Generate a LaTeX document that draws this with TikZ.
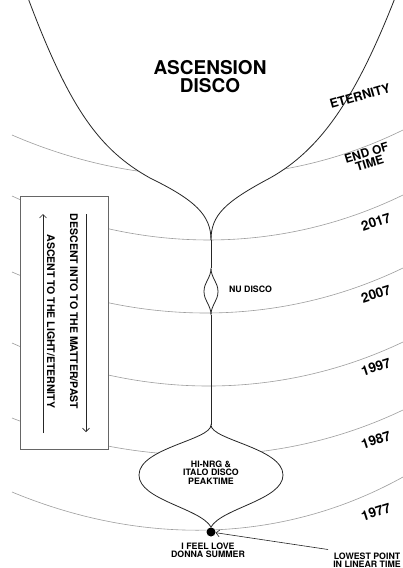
\documentclass[tikz,border=0pt]{standalone}
\usepackage{fontspec}
\setmainfont{TeX Gyre Heros}
\usetikzlibrary{arrows.meta}
\begin{document}
\begin{tikzpicture}[x=1pt,y=-1pt,
  arcline/.style={draw=black!38, line width=0.6pt},
  curve/.style={draw=black!85, line width=0.8pt},
  lbl/.style={font=\bfseries\fontsize{8.8}{8.3}\selectfont, align=center, inner sep=0pt},
  yr/.style={font=\bfseries\fontsize{13.5}{13.5}\selectfont, rotate=18, inner sep=0pt},
  boxtxt/.style={font=\bfseries\fontsize{10.5}{10.5}\selectfont, rotate=-90, inner sep=0pt},
  tip/.style={-{Straight Barb[length=3.5pt,width=7pt]}, draw=black!85, line width=0.6pt}]
\useasboundingbox (0,0) rectangle (403,568);
\fill[white] (0,0) rectangle (403,568);

% time arcs
\draw[arcline] (12,135) .. controls (140,190.5) and (280,190.5) .. (403,130);
\draw[arcline] (12,196) .. controls (140,254.8) and (280,254.8) .. (403,195);
\draw[arcline] (12,272) .. controls (140,327.3) and (280,327.3) .. (403,268);
\draw[arcline] (12,343) .. controls (140,400.5) and (280,400.5) .. (403,342);
\draw[arcline] (12,418) .. controls (140,468.7) and (280,468.7) .. (403,410);
\draw[arcline] (12,492) .. controls (140,545.2) and (280,545.2) .. (403,477);

% key points
\coordinate (junc) at (211,240);
\coordinate (lenstop) at (211,268);
\coordinate (lensbot) at (211,315);
\coordinate (oniontop) at (211,425);
\coordinate (onionbot) at (211,527);

% ascension funnel
\fill[white] (28,-2) .. controls (70,110) and (100,150) .. (150,178)
  .. controls (195,200) and (211,215) .. (junc)
  .. controls (211,215) and (225,202) .. (270,178)
  .. controls (320,150) and (355,100) .. (395,-2) -- cycle;
\draw[curve] (28,-2) .. controls (70,110) and (100,150) .. (150,178)
  .. controls (195,200) and (211,215) .. (junc);
\draw[curve] (395,-2) .. controls (355,100) and (320,150) .. (270,178)
  .. controls (225,202) and (211,215) .. (junc);

% nu disco lens
\draw[curve] (junc) -- (lenstop);
\filldraw[curve, fill=white] (lenstop) .. controls (211,278) and (204,282) .. (204,291.5)
  .. controls (204,301) and (211,305) .. (lensbot)
  .. controls (211,305) and (218,301) .. (218,291.5)
  .. controls (218,282) and (211,278) .. (lenstop) -- cycle;
\draw[curve] (lensbot) -- (oniontop);

% onion
\filldraw[curve, fill=white] (oniontop) .. controls (211,440) and (139,448) .. (139,475)
  .. controls (139,500) and (200,508) .. (onionbot)
  .. controls (222,508) and (283,500) .. (283,475)
  .. controls (283,448) and (211,440) .. (oniontop) -- cycle;

\node[circle, fill=black, inner sep=0pt, minimum size=9pt] (dot) at (211,532) {};

% title and labels
\node[font=\bfseries\fontsize{19}{18}\selectfont, align=center, inner sep=0pt] (title) at (210,77) {ASCENSION\\DISCO};
\node[font=\bfseries\fontsize{12.5}{12.5}\selectfont, rotate=16, inner sep=0pt] (eternity) at (360,96) {ETERNITY};
\node[font=\bfseries\fontsize{12}{10.5}\selectfont, rotate=17, align=center, inner sep=0pt] (endtime) at (368,158) {END OF\\TIME};
\node[yr] (y2017) at (376,222) {2017};
\node[yr] (y2007) at (376,294) {2007};
\node[yr] (y1997) at (376,367) {1997};
\node[yr] (y1987) at (376,440) {1987};
\node[yr] (y1977) at (376,512) {1977};

\node[lbl] (nudisco) at (250.5,289.5) {NU DISCO};
\node[lbl] (hinrg) at (211,472.5) {HI-NRG \&\\ITALO DISCO\\PEAKTIME};
\node[lbl] (ifeel) at (208,550) {I FEEL LOVE\\DONNA SUMMER};
\node[lbl] (lowest) at (367,560) {LOWEST POINT\\IN LINEAR TIME};
\coordinate (lowstart) at (328,549.5);
\draw[tip] (lowstart) -- (dot);

% direction box
\filldraw[draw=black!60, fill=white, line width=0.8pt] (20,196) rectangle (108,449);
\node[boxtxt] (descent) at (74,311.5) {DESCENT INTO TO THE MATTER/PAST};
\node[boxtxt] (ascent) at (51,321.5) {ASCENT TO THE LIGHT/ETERNITY};
\coordinate (dtop) at (86,214);
\coordinate (dbot) at (86,432);
\coordinate (atop) at (43,214);
\coordinate (abot) at (43,433);
\draw[tip] (dtop) -- (dbot);
\draw[tip] (abot) -- (atop);
\end{tikzpicture}
\end{document}
